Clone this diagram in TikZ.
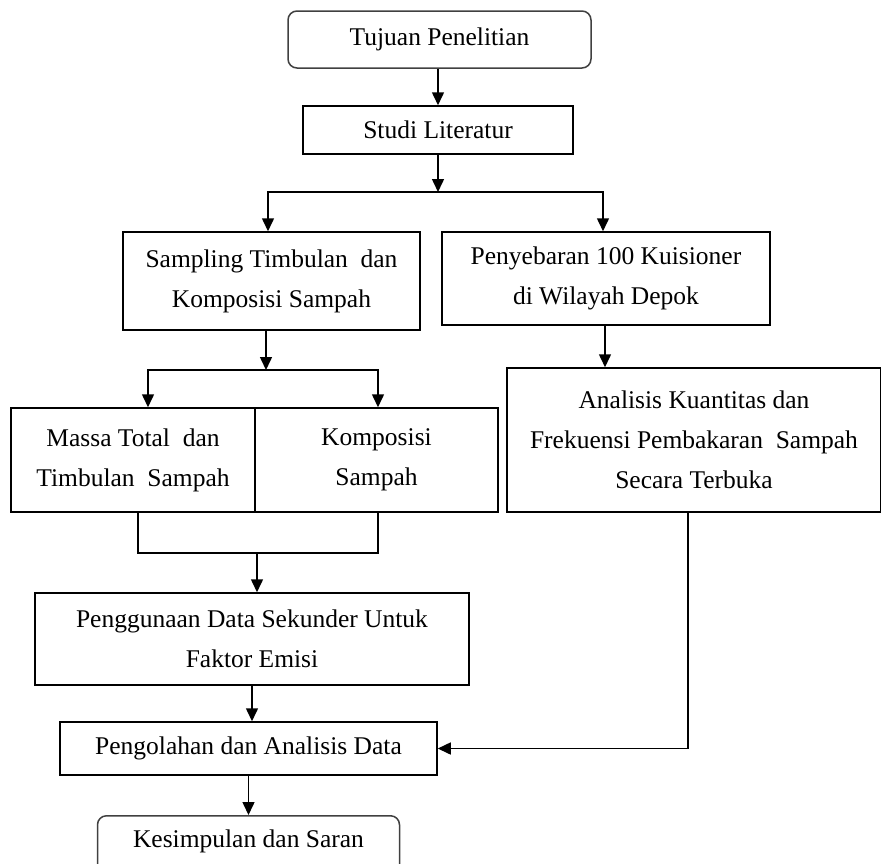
\documentclass[tikz,border=0pt]{standalone}
\usepackage{fontspec}
\setmainfont{Liberation Serif}
\usetikzlibrary{arrows.meta,calc}
\begin{document}
\begin{tikzpicture}[x=1pt,y=-1pt,
  every node/.style={font=\fontsize{25.5}{40}\selectfont, align=center},
  box/.style={draw, line width=1.5pt, inner sep=0pt},
  rbox/.style={box, rounded corners=9pt, draw=black!75},
  arr/.style={line width=1.5pt, -{Triangle[length=13pt,width=12pt]}},
  ln/.style={line width=1.5pt}]
\useasboundingbox (0,0) rectangle (881,863);
\clip (0,0) rectangle (881,863);
\node[rbox, minimum width=303pt, minimum height=57pt] (tujuan) at (439.5,39.5) {Tujuan Penelitian};
\node[box, minimum width=270pt, minimum height=48pt] (studi) at (438,130) {Studi Literatur};
\node[box, minimum width=297pt, minimum height=98pt] (sampling) at (271.5,281) {Sampling Timbulan\ \ dan\\Komposisi Sampah};
\node[box, minimum width=328pt, minimum height=93pt] (penyebaran) at (606,278.5) {Penyebaran 100 Kuisioner\\di Wilayah Depok};
\node[box, minimum width=244pt, minimum height=104pt] (massa) at (133,460) {Massa Total\ \ dan\\Timbulan\ \ Sampah};
\node[box, minimum width=243pt, minimum height=104pt] (komposisi) at (376.5,460) {Komposisi\\Sampah};
\node[box, minimum width=374pt, minimum height=144pt] (analisis) at (694,440) {Analisis Kuantitas dan\\Frekuensi Pembakaran\ \ Sampah\\Secara Terbuka};
\node[box, minimum width=434pt, minimum height=92pt] (penggunaan) at (252,639) {Penggunaan Data Sekunder Untuk\\Faktor Emisi};
\node[box, minimum width=377pt, minimum height=53pt] (pengolahan) at (248.5,748.5) {Pengolahan dan Analisis Data};
\node[rbox, anchor=north, text height=32pt, text depth=60pt, minimum width=302pt] (kes) at (248.5,815) {Kesimpulan dan Saran};
% connectors
\coordinate (s1) at (438,192);
\coordinate (s2) at (266,370);
\coordinate (j1) at (257,553);
\draw[arr] (studi.north |- tujuan.south) -- (studi.north);
\draw[arr] (studi.south) -- (s1);
\draw[arr] (s1) -| ([xshift=-3.5pt]sampling.north);
\draw[arr] (s1) -| ([xshift=-3pt]penyebaran.north);
\draw[arr] ([xshift=-5.5pt]sampling.south) -- (s2);
\draw[arr] (s2) -| ([xshift=15pt]massa.north);
\draw[arr] (s2) -| ([xshift=1.5pt]komposisi.north);
\draw[arr] ([xshift=-1pt]penyebaran.south) -- ([xshift=-1pt]penyebaran.south |- analisis.north);
\draw[ln] ([xshift=5pt]massa.south) |- (j1);
\draw[ln] ([xshift=1.5pt]komposisi.south) |- (j1);
\draw[arr] (j1) -- (j1 |- penggunaan.north);
\draw[arr] (penggunaan.south) -- (penggunaan.south |- pengolahan.north);
\draw[arr] ([xshift=-6pt]analisis.south) |- (pengolahan.east);
\draw[arr] (pengolahan.south) -- (kes.north);
\end{tikzpicture}
\end{document}
